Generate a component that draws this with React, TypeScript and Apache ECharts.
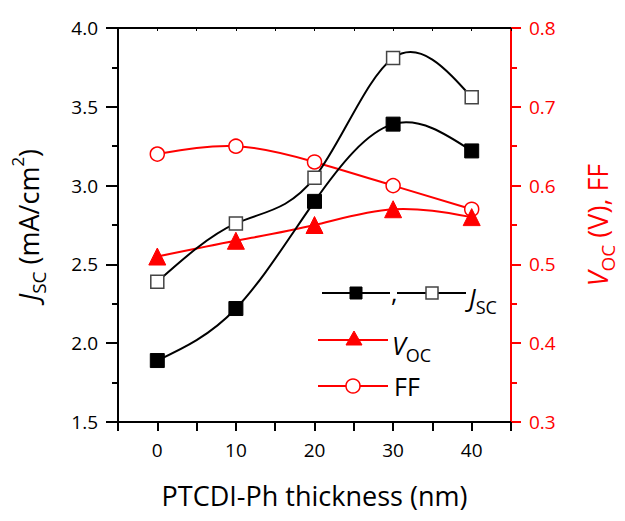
import React, { useEffect, useRef } from "react";
import * as echarts from "echarts";

const thickness = [0, 10, 20, 30, 40];
const jscFilled = [1.89, 2.22, 2.9, 3.39, 3.22];
const jscOpen = [2.39, 2.76, 3.05, 3.81, 3.56];
const vocValues = [0.51, 0.53, 0.55, 0.57, 0.56];
const ffValues = [0.64, 0.65, 0.63, 0.6, 0.57];
const xTickLabels = ["0", "10", "20", "30", "40"];

const FONT = "Open Sans";
const RED = "#ff0000";

const pair = (ys: number[]) => thickness.map((x, i) => [x, ys[i]]);

// natural cubic spline through the given points, returned as cubic Bezier segments in data space
function splineSegments(xs: number[], ys: number[]) {
  const n = xs.length;
  const h: number[] = [];
  for (let i = 0; i < n - 1; i++) h.push(xs[i + 1] - xs[i]);
  const M = new Array(n).fill(0);
  if (n > 2) {
    const a: number[] = [], b: number[] = [], c: number[] = [], d: number[] = [];
    for (let i = 1; i < n - 1; i++) {
      a.push(h[i - 1]);
      b.push(2 * (h[i - 1] + h[i]));
      c.push(h[i]);
      d.push(6 * ((ys[i + 1] - ys[i]) / h[i] - (ys[i] - ys[i - 1]) / h[i - 1]));
    }
    const m = b.length;
    for (let i = 1; i < m; i++) {
      const w = a[i] / b[i - 1];
      b[i] -= w * c[i - 1];
      d[i] -= w * d[i - 1];
    }
    const sol = new Array(m).fill(0);
    sol[m - 1] = d[m - 1] / b[m - 1];
    for (let i = m - 2; i >= 0; i--) sol[i] = (d[i] - c[i] * sol[i + 1]) / b[i];
    for (let i = 0; i < m; i++) M[i + 1] = sol[i];
  }
  const segs: number[][][] = [];
  for (let i = 0; i < n - 1; i++) {
    const hi = h[i];
    const s = (ys[i + 1] - ys[i]) / hi;
    const d0 = s - (hi * (2 * M[i] + M[i + 1])) / 6;
    const d1 = s + (hi * (M[i] + 2 * M[i + 1])) / 6;
    segs.push([
      [xs[i], ys[i]],
      [xs[i] + hi / 3, ys[i] + (d0 * hi) / 3],
      [xs[i + 1] - hi / 3, ys[i + 1] - (d1 * hi) / 3],
      [xs[i + 1], ys[i + 1]],
    ]);
  }
  return segs;
}

const splineSeries = (ys: number[], color: string, yAxisIndex: number) => ({
  type: "custom",
  xAxisIndex: 0,
  yAxisIndex,
  data: pair(ys),
  silent: true,
  z: 1,
  renderItem: (params: any, api: any) => {
    if (params.dataIndex !== 0) return null;
    const segs = splineSegments(thickness, ys);
    return {
      type: "group",
      children: segs.map((sg) => {
        const p0 = api.coord(sg[0]);
        const c1 = api.coord(sg[1]);
        const c2 = api.coord(sg[2]);
        const p1 = api.coord(sg[3]);
        return {
          type: "bezierCurve",
          shape: { x1: p0[0], y1: p0[1], cpx1: c1[0], cpy1: c1[1], cpx2: c2[0], cpy2: c2[1], x2: p1[0], y2: p1[1] },
          style: { stroke: color, lineWidth: 2, fill: null },
        };
      }),
    };
  },
});

export default function App() {
  const ref = useRef<HTMLDivElement>(null);
  useEffect(() => {
    if (!ref.current) return;
    const chart = echarts.init(ref.current, undefined, { renderer: "svg" });
    const T = 27;
    const makeRich = (color: string, big: number, sub: number) => ({
      i: { fontStyle: "italic", fontSize: big, fontFamily: FONT, color, lineHeight: big + 12, verticalAlign: "middle" },
      n: { fontSize: big, fontFamily: FONT, color, lineHeight: big + 12, verticalAlign: "middle" },
      s: { fontSize: sub, fontFamily: FONT, color, lineHeight: sub, verticalAlign: "bottom" },
      p: { fontSize: sub - 2, fontFamily: FONT, color, lineHeight: sub, verticalAlign: "top" },
    });
    const axisRich = makeRich("#000", T, 19);
    const axisRichRed = makeRich(RED, T, 19);
    const legendRich = makeRich("#000", 25, 18);
    chart.setOption({
      animation: false,
      backgroundColor: "#fff",
      grid: { left: 118, right: 111, top: 28, bottom: 99 },
      xAxis: [
        {
          type: "value",
          min: -5,
          max: 45,
          interval: 5,
          position: "bottom",
          name: "PTCDI-Ph thickness (nm)",
          nameLocation: "middle",
          nameGap: 60,
          nameTextStyle: { fontFamily: FONT, fontSize: 27, color: "#000" },
          axisLine: { show: true, onZero: false, lineStyle: { color: "#000", width: 2 } },
          axisTick: { show: true, inside: false, length: 9, lineStyle: { color: "#000", width: 2 } },
          axisLabel: {
            margin: 18,
            fontFamily: FONT,
            fontSize: 19,
            color: "#000",
            formatter: (v: number) => {
              const idx = thickness.indexOf(v);
              return idx >= 0 ? xTickLabels[idx] : "";
            },
          },
          splitLine: { show: false },
        },
        {
          type: "value",
          min: -5,
          max: 45,
          interval: 5,
          position: "top",
          axisLine: { show: true, onZero: false, lineStyle: { color: "#000", width: 2 } },
          axisTick: { show: true, inside: true, length: 3, lineStyle: { color: "#000", width: 1 } },
          axisLabel: { show: false },
          splitLine: { show: false },
        },
      ],
      yAxis: [
        {
          type: "value",
          min: 1.5,
          max: 4.0,
          interval: 0.5,
          position: "left",
          name: "{i|J}{s|SC}{n| (mA/cm}{p|2}{n|)}",
          nameLocation: "middle",
          nameGap: 70,
          nameRotate: 90,
          nameTextStyle: { color: "#000", fontSize: T, fontFamily: FONT, rich: axisRich },
          axisLine: { show: true, onZero: false, lineStyle: { color: "#000", width: 2 } },
          axisTick: { show: true, inside: false, length: 12, lineStyle: { color: "#000", width: 2 } },
          minorTick: { show: true, splitNumber: 2, length: 6, lineStyle: { color: "#000", width: 2 } },
          axisLabel: {
            margin: 20,
            fontFamily: FONT,
            fontSize: 19,
            color: "#000",
            formatter: (v: number) => v.toFixed(1),
          },
          splitLine: { show: false },
        },
        {
          type: "value",
          min: 0.3,
          max: 0.8,
          interval: 0.1,
          position: "right",
          name: "{i|V}{s|OC}{n| (V), FF}",
          nameLocation: "middle",
          nameGap: 67,
          nameRotate: 90,
          nameTextStyle: { color: RED, fontSize: T, fontFamily: FONT, rich: axisRichRed },
          axisLine: { show: true, onZero: false, lineStyle: { color: RED, width: 2 } },
          axisTick: { show: true, inside: false, length: 10, lineStyle: { color: RED, width: 2 } },
          minorTick: { show: true, splitNumber: 2, length: 6, lineStyle: { color: RED, width: 2 } },
          axisLabel: {
            margin: 18,
            fontFamily: FONT,
            fontSize: 19,
            color: RED,
            formatter: (v: number) => v.toFixed(1),
          },
          splitLine: { show: false },
        },
      ],
      series: [
        splineSeries(ffValues, RED, 1),
        splineSeries(vocValues, RED, 1),
        splineSeries(jscOpen, "#000", 0),
        splineSeries(jscFilled, "#000", 0),
        {
          name: "FF",
          type: "scatter",
          xAxisIndex: 0,
          yAxisIndex: 1,
          data: pair(ffValues),
          symbol: "circle",
          symbolSize: 14,
          itemStyle: { color: "#fff", borderColor: RED, borderWidth: 1.5, opacity: 1 },
          z: 4,
        },
        {
          name: "Voc",
          type: "scatter",
          xAxisIndex: 0,
          yAxisIndex: 1,
          data: pair(vocValues),
          symbol: "triangle",
          symbolSize: 17,
          itemStyle: { color: RED, borderColor: RED, borderWidth: 1, opacity: 1 },
          z: 4,
        },
        {
          name: "Jsc open",
          type: "scatter",
          xAxisIndex: 0,
          yAxisIndex: 0,
          data: pair(jscOpen),
          symbol: "rect",
          symbolSize: 13,
          itemStyle: { color: "#fff", borderColor: "#444", borderWidth: 1.5, opacity: 1 },
          z: 5,
        },
        {
          name: "Jsc filled",
          type: "scatter",
          xAxisIndex: 0,
          yAxisIndex: 0,
          data: pair(jscFilled),
          symbol: "rect",
          symbolSize: 14,
          itemStyle: { color: "#000", borderColor: "#000", borderWidth: 1, opacity: 1 },
          z: 5,
        },
      ],
      graphic: [
        // legend row 1
        { type: "line", shape: { x1: 322, y1: 293, x2: 390, y2: 293 }, style: { stroke: "#000", lineWidth: 2 } },
        { type: "rect", shape: { x: 350, y: 287, width: 12, height: 12 }, style: { fill: "#000", stroke: "#000", lineWidth: 1 } },
        { type: "text", x: 391, y: 292, style: { text: ",", fontFamily: FONT, fontSize: 25, fill: "#000", textVerticalAlign: "middle" } },
        { type: "line", shape: { x1: 397, y1: 293, x2: 466, y2: 293 }, style: { stroke: "#000", lineWidth: 2 } },
        { type: "rect", shape: { x: 426, y: 287, width: 12, height: 12 }, style: { fill: "#fff", stroke: "#444", lineWidth: 1.5 } },
        { type: "text", x: 469, y: 297, style: { text: "{i|J}{s|SC}", rich: legendRich, textVerticalAlign: "middle" } },
        // legend row 2
        { type: "line", shape: { x1: 318, y1: 340, x2: 388, y2: 340 }, style: { stroke: RED, lineWidth: 2 } },
        { type: "polygon", shape: { points: [[354, 331], [362, 345], [346, 345]] }, style: { fill: RED, stroke: RED, lineWidth: 1 } },
        { type: "text", x: 392, y: 345, style: { text: "{i|V}{s|OC}", rich: legendRich, textVerticalAlign: "middle" } },
        // legend row 3
        { type: "line", shape: { x1: 318, y1: 386, x2: 388, y2: 386 }, style: { stroke: RED, lineWidth: 2 } },
        { type: "circle", shape: { cx: 353, cy: 386, r: 7 }, style: { fill: "#fff", stroke: RED, lineWidth: 1.5 } },
        { type: "text", x: 394, y: 386, style: { text: "FF", fontFamily: FONT, fontSize: 25, fill: "#000", textVerticalAlign: "middle" } },
      ],
    });
    return () => chart.dispose();
  }, []);
  return <div ref={ref} style={{ width: 625, height: 521, position: "absolute", left: 0, top: 0 }} />;
}
